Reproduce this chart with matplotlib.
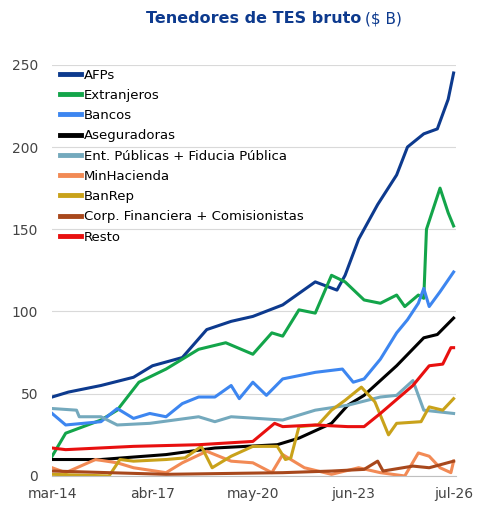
import matplotlib
matplotlib.use("Agg")
import matplotlib.pyplot as plt

tick_pos = [0, 37, 74, 111, 148]
tick_labels = ["mar-14", "abr-17", "may-20", "jun-23", "jul-26"]

afp_t = [0, 6, 18, 30, 37, 48, 57, 66, 74, 85, 97, 105, 108, 113, 120, 127, 131, 137, 142, 146, 148]
afp_v = [48, 51, 55, 60, 67, 72, 89, 94, 97, 104, 118, 113, 122, 144, 165, 183, 200, 208, 211, 229, 245]
ext_t = [0, 5, 18, 24, 32, 42, 54, 64, 74, 81, 85, 91, 97, 103, 108, 115, 121, 127, 130, 135, 137, 138, 143, 146, 148]
ext_v = [12, 26, 34, 40, 57, 65, 77, 81, 74, 87, 85, 101, 99, 122, 118, 107, 105, 110, 103, 110, 108, 150, 175, 160, 152]
ban_t = [0, 5, 18, 24, 30, 36, 42, 48, 54, 60, 66, 69, 74, 79, 85, 97, 107, 111, 115, 121, 127, 131, 135, 137, 139, 143, 148]
ban_v = [38, 31, 33, 41, 35, 38, 36, 44, 48, 48, 55, 47, 57, 49, 59, 63, 65, 57, 59, 71, 87, 95, 105, 114, 103, 112, 124]
ase_t = [0, 18, 42, 60, 83, 91, 103, 109, 115, 127, 137, 142, 148]
ase_v = [10, 10, 13, 17, 19, 23, 32, 43, 49, 67, 84, 86, 96]
ent_t = [0, 9, 10, 18, 24, 36, 54, 60, 66, 85, 97, 109, 121, 127, 133, 137, 148]
ent_v = [41, 40, 36, 36, 31, 32, 36, 33, 36, 34, 40, 43, 48, 49, 58, 40, 38]
min_t = [0, 5, 16, 24, 30, 42, 48, 57, 66, 74, 81, 85, 88, 93, 103, 113, 121, 130, 135, 139, 143, 147, 148]
min_v = [5, 2, 10, 8, 5, 2, 8, 15, 9, 8, 2, 13, 10, 5, 1, 5, 2, 0, 14, 12, 5, 2, 9]
brp_t = [0, 21, 25, 30, 42, 49, 55, 59, 66, 74, 83, 86, 88, 91, 98, 103, 108, 114, 119, 124, 127, 136, 139, 144, 148]
brp_v = [1, 0, 10, 9, 10, 11, 18, 5, 12, 18, 18, 10, 11, 30, 31, 40, 46, 54, 45, 25, 32, 33, 42, 40, 47]
cor_t = [0, 42, 85, 103, 115, 120, 122, 133, 139, 148]
cor_v = [3, 1, 2, 3, 4, 9, 3, 6, 5, 9]
res_t = [0, 5, 30, 54, 74, 82, 85, 97, 109, 115, 121, 133, 139, 144, 147, 148]
res_v = [17, 16, 18, 19, 21, 32, 30, 31, 30, 30, 38, 55, 67, 68, 78, 78]

series = [
    ("AFPs", afp_t, afp_v, "#0d3a8e"),
    ("Extranjeros", ext_t, ext_v, "#13a54a"),
    ("Bancos", ban_t, ban_v, "#3d86f0"),
    ("Aseguradoras", ase_t, ase_v, "#000000"),
    ("Ent. Públicas + Fiducia Pública", ent_t, ent_v, "#74a9bd"),
    ("MinHacienda", min_t, min_v, "#f28a55"),
    ("BanRep", brp_t, brp_v, "#c9a21a"),
    ("Corp. Financiera + Comisionistas", cor_t, cor_v, "#a8481c"),
    ("Resto", res_t, res_v, "#e8100f"),
]

fig = plt.figure(figsize=(4.87, 5.14), dpi=100)
ax = fig.add_axes([0.107, 0.074, 0.83, 0.8])
for name, t, v, c in series:
    ax.plot(t, v, color=c, lw=2.2, label=name)

ax.set_xlim(0, 149)
ax.set_ylim(0, 250)
ax.set_yticks([0, 50, 100, 150, 200, 250])
ax.set_xticks(tick_pos)
ax.set_xticklabels(tick_labels)
ax.tick_params(axis="both", length=0, labelsize=10, colors="#444444")
ax.tick_params(axis="y", pad=10)
ax.tick_params(axis="x", pad=8)
ax.grid(axis="y", color="#d9d9d9", lw=0.8)
ax.set_axisbelow(True)
for s in ["top", "right", "left"]:
    ax.spines[s].set_visible(False)
ax.spines["bottom"].set_color("#bfbfbf")

ax.legend(loc="upper left", bbox_to_anchor=(0.0, 1.01), frameon=False, fontsize=9.5,
          handlelength=1.6, handletextpad=0.2, labelspacing=0.55, borderaxespad=0.2)
for line in ax.get_legend().get_lines():
    line.set_linewidth(3.5)

t1 = fig.text(0.30, 0.955, "Tenedores de TES bruto", fontsize=11.5, fontweight="bold", color="#0d3a8e")
fig.canvas.draw()
bb = t1.get_window_extent().transformed(fig.transFigure.inverted())
fig.text(bb.x1 + 0.008, 0.955, "($ B)", fontsize=11, color="#0d3a8e")
fig.savefig("out.png", dpi=100)
